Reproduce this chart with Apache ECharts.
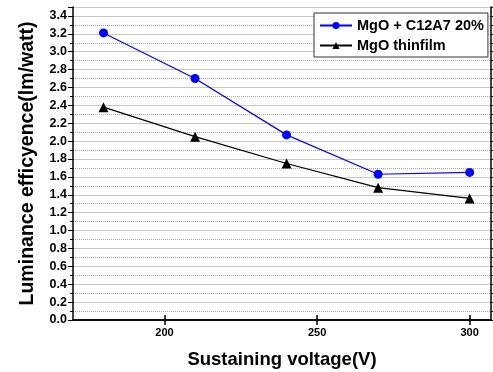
<!DOCTYPE html>
<html><head><meta charset="utf-8">
<script src="https://cdn.jsdelivr.net/npm/echarts@6/dist/echarts.min.js"></script>
<style>html,body{margin:0;padding:0;background:#fff}#c{width:493px;height:372px}</style>
</head><body><div id="c"></div>
<script>
const voltages = [180, 210, 240, 270, 300];
const mgoC12A7 = [3.21, 2.70, 2.07, 1.63, 1.65];
const mgoThin = [2.38, 2.05, 1.75, 1.48, 1.36];
const xTicks = [200, 250, 300];
const seriesNames = ['MgO + C12A7 20%', 'MgO thinfilm'];
const xName = 'Sustaining voltage(V)';
const yName = 'Luminance efficyence(lm/watt)';

const font = 'Arial, "Liberation Sans", sans-serif';
const chart = echarts.init(document.getElementById('c'));
const pair = (xs, ys) => xs.map((x, i) => [x, ys[i]]);
chart.setOption({
  animation: false,
  grid: { left: 73, right: 2, top: 7, bottom: 52, outerBoundsMode: 'none', containLabel: false },
  legend: {
    orient: 'vertical', left: 314, top: 13,
    backgroundColor: '#fff', borderColor: '#333', borderWidth: 1,
    padding: [5, 4, 4, 5], itemGap: 5, itemWidth: 32, itemHeight: 9,
    textStyle: { fontFamily: font, fontWeight: 'bold', fontSize: 14.5, color: '#000' },
    data: seriesNames
  },
  xAxis: [{
    type: 'value', min: 170, max: 307,
    name: xName, nameLocation: 'middle', nameGap: 30,
    nameTextStyle: { fontFamily: font, fontWeight: 'bold', fontSize: 18.5, color: '#000' },
    axisLine: { lineStyle: { color: '#000', width: 1.5 } },
    axisTick: { inside: true, length: 5, customValues: xTicks, lineStyle: { color: '#000', width: 1.5 } },
    axisLabel: { customValues: xTicks, fontFamily: font, fontWeight: 'bold', fontSize: 11, color: '#000', margin: 7 },
    splitLine: { show: false }
  }, {
    type: 'value', min: 170, max: 307, position: 'top',
    axisLine: { show: true, lineStyle: { color: '#000', width: 1.5 } },
    axisTick: { inside: true, length: 5, customValues: xTicks, lineStyle: { color: '#000', width: 1.5 } },
    axisLabel: { show: false },
    splitLine: { show: false }
  }],
  yAxis: [{
    type: 'value', min: 0, max: 3.5, interval: 0.2,
    name: yName, nameLocation: 'middle', nameGap: 35,
    nameTextStyle: { fontFamily: font, fontWeight: 'bold', fontSize: 19.5, color: '#000' },
    axisLine: { show: true, lineStyle: { color: '#000', width: 1.5 } },
    axisTick: { show: true, length: 5, lineStyle: { color: '#000' } },
    minorTick: { show: true, splitNumber: 2, length: 3, lineStyle: { color: '#000' } },
    axisLabel: { fontFamily: font, fontWeight: 'bold', fontSize: 12.5, color: '#000', margin: 6,
      formatter: v => v.toFixed(1), showMaxLabel: false },
    splitLine: { show: true, lineStyle: { color: '#c8c8c8', width: 1.2 } },
    minorSplitLine: { show: true, lineStyle: { color: '#aaa', type: [1, 1], width: 1 } }
  }, {
    type: 'value', min: 0, max: 3.5, interval: 0.2, position: 'right',
    axisLine: { show: true, lineStyle: { color: '#000', width: 1.5 } },
    axisTick: { show: true, length: 3, lineStyle: { color: '#000' } },
    minorTick: { show: true, splitNumber: 2, length: 3, lineStyle: { color: '#000' } },
    axisLabel: { show: false },
    splitLine: { show: false }
  }],
  series: [{
    name: seriesNames[0], type: 'line', data: pair(voltages, mgoC12A7),
    symbol: 'circle', symbolSize: 9,
    lineStyle: { color: '#0000ff', width: 1.2 }, itemStyle: { color: '#0000ff' }
  }, {
    name: seriesNames[1], type: 'line', data: pair(voltages, mgoThin),
    symbol: 'triangle', symbolSize: 10,
    lineStyle: { color: '#000', width: 1.2 }, itemStyle: { color: '#000' }
  }]
});
</script></body></html>
